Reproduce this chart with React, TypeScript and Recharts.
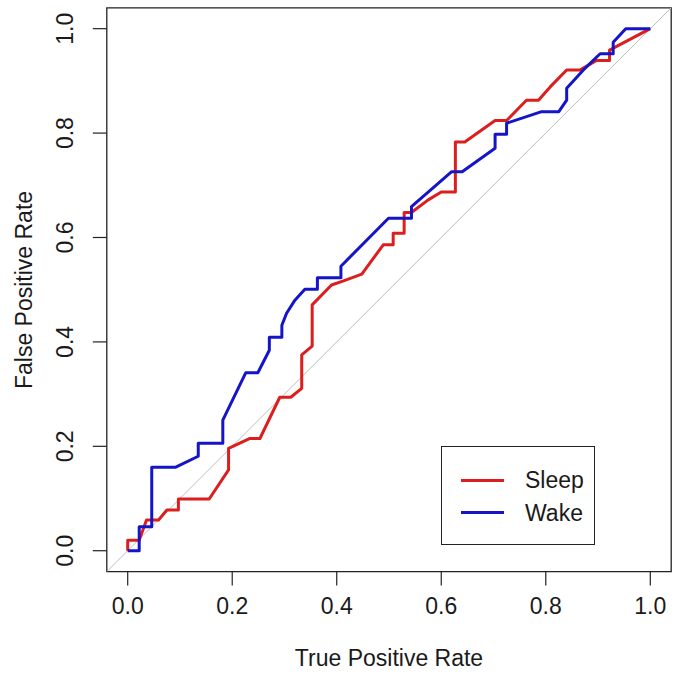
import React from "react";
import { LineChart, Line, XAxis, YAxis, ReferenceArea } from "recharts";

const FONT = "'Liberation Sans', Arial, sans-serif";
const FS = 23;

const xTicks = [0, 0.2, 0.4, 0.6, 0.8, 1.0];
const yTicks = [0, 0.2, 0.4, 0.6, 0.8, 1.0];

const seriesNames = ["Sleep", "Wake"];
const seriesColors = ["#dc1e1e", "#1414c8"];

const sleepX = [0, 0, 0.022, 0.036, 0.059, 0.075, 0.097, 0.097, 0.156, 0.193, 0.193, 0.234, 0.253, 0.291, 0.312, 0.333, 0.333, 0.353, 0.353, 0.39, 0.413, 0.448, 0.489, 0.508, 0.508, 0.529, 0.529, 0.543, 0.575, 0.6, 0.627, 0.627, 0.645, 0.703, 0.725, 0.763, 0.786, 0.808, 0.84, 0.866, 0.897, 0.922, 0.922, 1];
const sleepY = [0, 0.02, 0.02, 0.059, 0.059, 0.078, 0.078, 0.099, 0.099, 0.155, 0.196, 0.215, 0.215, 0.294, 0.294, 0.311, 0.375, 0.392, 0.471, 0.509, 0.517, 0.53, 0.586, 0.586, 0.608, 0.608, 0.648, 0.648, 0.672, 0.687, 0.687, 0.783, 0.783, 0.824, 0.824, 0.863, 0.863, 0.888, 0.921, 0.921, 0.939, 0.939, 0.959, 1];

const wakeX = [0, 0.022, 0.022, 0.046, 0.046, 0.092, 0.135, 0.135, 0.182, 0.182, 0.226, 0.249, 0.271, 0.271, 0.295, 0.295, 0.304, 0.32, 0.339, 0.363, 0.363, 0.408, 0.408, 0.499, 0.543, 0.543, 0.62, 0.64, 0.703, 0.703, 0.725, 0.725, 0.792, 0.825, 0.84, 0.84, 0.872, 0.904, 0.929, 0.929, 0.953, 1];
const wakeY = [0, 0, 0.046, 0.046, 0.16, 0.16, 0.181, 0.206, 0.206, 0.25, 0.341, 0.341, 0.384, 0.409, 0.409, 0.432, 0.455, 0.48, 0.501, 0.501, 0.523, 0.523, 0.545, 0.637, 0.637, 0.659, 0.726, 0.726, 0.771, 0.798, 0.798, 0.819, 0.841, 0.841, 0.863, 0.886, 0.921, 0.952, 0.952, 0.974, 1, 1];

const refX = [-0.04, 1.04];
const refY = [-0.04, 1.04];

const toData = (xs: number[], ys: number[]) => xs.map((x, i) => ({ x, y: ys[i] }));

const sleepData = toData(sleepX, sleepY);
const wakeData = toData(wakeX, wakeY);
const refData = toData(refX, refY);

const YTick = (props: any) => {
  const { y, payload } = props;
  const bx = 73;
  return (
    <text
      x={bx}
      y={y}
      transform={`rotate(-90 ${bx} ${y})`}
      textAnchor="middle"
      fontSize={FS}
      fontFamily={FONT}
      fill="#1a1a1a"
    >
      {Number(payload.value).toFixed(1)}
    </text>
  );
};

export default function App() {
  return (
    <div style={{ position: "absolute", left: 0, top: 0, width: 676, height: 680, background: "#fff" }}>
      <LineChart
        width={676}
        height={680}
        margin={{ top: 7.8, right: 4.8, bottom: 48.4, left: 46.8 }}
      >
        <XAxis
          type="number"
          dataKey="x"
          domain={[-0.04, 1.04]}
          ticks={xTicks}
          interval={0}
          allowDataOverflow
          axisLine={false}
          tickSize={14}
          tickMargin={12}
          tickLine={{ stroke: "#222", strokeWidth: 1.2 }}
          tick={{ fill: "#1a1a1a", fontSize: FS, fontFamily: FONT }}
          tickFormatter={(v: number) => v.toFixed(1)}
          height={60}
          label={{
            content: () => (
              <text x={389} y={666} textAnchor="middle" fontSize={FS} fontFamily={FONT} fill="#1a1a1a">
                True Positive Rate
              </text>
            ),
          }}
        />
        <YAxis
          type="number"
          dataKey="y"
          domain={[-0.04, 1.04]}
          ticks={yTicks}
          interval={0}
          allowDataOverflow
          axisLine={false}
          tickSize={14}
          tickLine={{ stroke: "#222", strokeWidth: 1.2 }}
          tick={<YTick />}
          width={60}
          label={{
            content: () => (
              <text
                x={32}
                y={290}
                transform="rotate(-90 32 290)"
                textAnchor="middle"
                fontSize={FS}
                fontFamily={FONT}
                fill="#1a1a1a"
              >
                False Positive Rate
              </text>
            ),
          }}
        />
        <ReferenceArea
          x1={-0.04}
          x2={1.04}
          y1={-0.04}
          y2={1.04}
          fill="none"
          fillOpacity={0}
          stroke="#222"
          strokeWidth={1.3}
        />
        <Line
          data={refData}
          dataKey="y"
          type="linear"
          stroke="#bdbdbd"
          strokeWidth={1}
          dot={false}
          isAnimationActive={false}
        />
        <Line
          data={sleepData}
          dataKey="y"
          name={seriesNames[0]}
          type="linear"
          stroke={seriesColors[0]}
          strokeWidth={3}
          strokeLinejoin="round"
          dot={false}
          isAnimationActive={false}
        />
        <Line
          data={wakeData}
          dataKey="y"
          name={seriesNames[1]}
          type="linear"
          stroke={seriesColors[1]}
          strokeWidth={3}
          strokeLinejoin="round"
          dot={false}
          isAnimationActive={false}
        />
      </LineChart>
      <div
        style={{
          position: "absolute",
          left: 441,
          top: 446,
          width: 154,
          height: 99,
          border: "1.3px solid #222",
          background: "#fff",
          fontFamily: FONT,
          fontSize: FS,
          color: "#1a1a1a",
          boxSizing: "border-box",
        }}
      >
        {seriesNames.map((name, i) => (
          <div
            key={name}
            style={{
              position: "absolute",
              left: 19,
              top: 20 + i * 32.5,
              height: 26,
              display: "flex",
              alignItems: "center",
            }}
          >
            <div style={{ width: 43, height: 3, background: seriesColors[i] }} />
            <span style={{ marginLeft: 21, lineHeight: "26px" }}>{name}</span>
          </div>
        ))}
      </div>
    </div>
  );
}
